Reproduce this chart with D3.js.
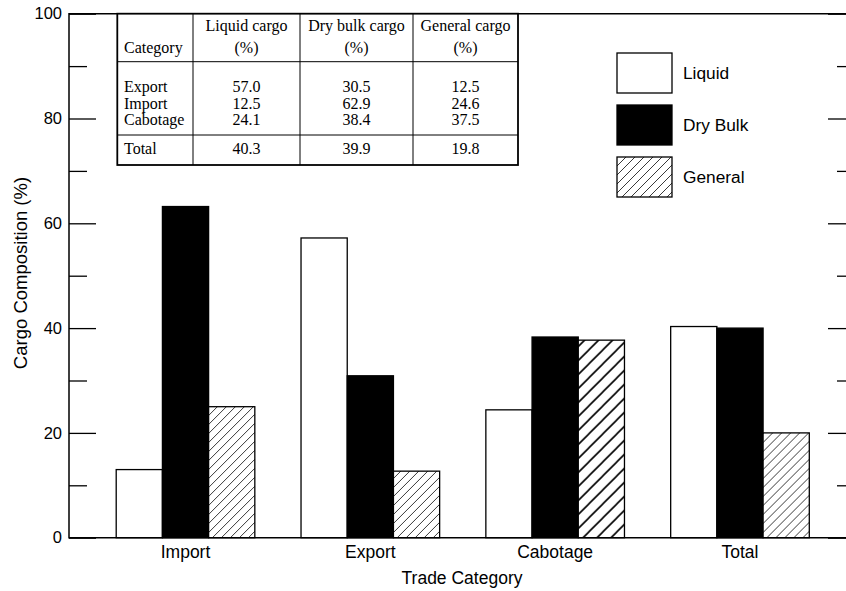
<!DOCTYPE html>
<html>
<head>
<meta charset="utf-8">
<script src="https://cdn.jsdelivr.net/npm/d3@7"></script>
<style>
  body { margin: 0; background: #fff; }
  svg { display: block; }
</style>
</head>
<body>
<svg id="chart" width="846" height="591"></svg>
<script>
// ---- data ----
const categories = ["Import", "Export", "Cabotage", "Total"];
const seriesNames = ["Liquid", "Dry Bulk", "General"];
const liquidValues = [13.0, 57.2, 24.4, 40.3];
const dryBulkValues = [63.2, 30.9, 38.3, 40.0];
const generalValues = [25.0, 12.7, 37.7, 20.0];
const yTicks = [0, 20, 40, 60, 80, 100];
const yMinorTicks = [10, 30, 50, 70, 90];

const tableHeader1 = ["", "Liquid cargo", "Dry bulk cargo", "General cargo"];
const tableHeader2 = ["Category", "(%)", "(%)", "(%)"];
const tableRowNames = ["Export", "Import", "Cabotage"];
const tableLiquid = ["57.0", "12.5", "24.1"];
const tableDryBulk = ["30.5", "62.9", "38.4"];
const tableGeneral = ["12.5", "24.6", "37.5"];
const tableTotal = ["Total", "40.3", "39.9", "19.8"];

// ---- setup ----
const svg = d3.select("#chart");
const sans = "'Liberation Sans', Arial, sans-serif";
const serif = "'Liberation Serif', 'Times New Roman', serif";

const xLeft = 69, xRight = 855, yTop = 13.7, yBottom = 537.7;

const y = d3.scaleLinear().domain([0, 100]).range([yBottom, yTop]);
const x0 = d3.scaleBand().domain(categories).range([93.1, 832.4]).padding(0);
const x1 = d3.scaleBand().domain(seriesNames)
  .range([x0.bandwidth() * 0.125, x0.bandwidth() * 0.875]).padding(0);

// patterns
const defs = svg.append("defs");
function hatch(id, size, sw, color) {
  const p = defs.append("pattern").attr("id", id)
    .attr("patternUnits", "userSpaceOnUse")
    .attr("width", size).attr("height", size);
  p.append("rect").attr("width", size).attr("height", size).attr("fill", "#fff");
  p.append("path")
    .attr("d", `M0,${size} L${size},0 M${-size / 2},${size / 2} L${size / 2},${-size / 2} M${size / 2},${size * 1.5} L${size * 1.5},${size / 2}`)
    .attr("stroke", color).attr("stroke-width", sw);
}
hatch("hatchThin", 9, 0.9, "#222");
hatch("hatchThick", 14, 1.6, "#000");

const fills = { "Liquid": "#fff", "Dry Bulk": "#000", "General": "url(#hatchThin)" };
function fillFor(cat, s) {
  if (s === "General" && cat === "Cabotage") return "url(#hatchThick)";
  return fills[s];
}

const seriesValues = { "Liquid": liquidValues, "Dry Bulk": dryBulkValues, "General": generalValues };

// ---- bars ----
const groups = svg.append("g").selectAll("g")
  .data(categories).join("g")
  .attr("transform", d => `translate(${x0(d)},0)`);

groups.selectAll("rect")
  .data((cat, i) => seriesNames.map(s => ({ cat, s, v: seriesValues[s][i] })))
  .join("rect")
  .attr("x", d => x1(d.s))
  .attr("y", d => y(d.v))
  .attr("width", x1.bandwidth())
  .attr("height", d => y(0) - y(d.v))
  .attr("fill", d => fillFor(d.cat, d.s))
  .attr("stroke", "#000")
  .attr("stroke-width", 1.3);

// ---- axes ----
const axisLeft = svg.append("g").attr("transform", `translate(${xLeft},0)`)
  .call(d3.axisLeft(y).tickValues(yTicks).tickSize(-27).tickPadding(7).tickFormat(d3.format("d")));
axisLeft.select(".domain").remove();
axisLeft.selectAll("line").attr("stroke", "#000").attr("stroke-width", 1.3);
axisLeft.selectAll("text").attr("font-family", sans).attr("font-size", 16.5).attr("fill", "#000");

const axisLeftMinor = svg.append("g").attr("transform", `translate(${xLeft},0)`)
  .call(d3.axisLeft(y).tickValues(yMinorTicks).tickSize(-18).tickFormat(""));
axisLeftMinor.select(".domain").remove();
axisLeftMinor.selectAll("line").attr("stroke", "#000").attr("stroke-width", 1.3);

const axisRight = svg.append("g").attr("transform", `translate(${xRight},0)`)
  .call(d3.axisRight(y).tickValues(yTicks).tickSize(-27).tickFormat(""));
axisRight.select(".domain").remove();
axisRight.selectAll("line").attr("stroke", "#000").attr("stroke-width", 1.3);

const axisRightMinor = svg.append("g").attr("transform", `translate(${xRight},0)`)
  .call(d3.axisRight(y).tickValues(yMinorTicks).tickSize(-18).tickFormat(""));
axisRightMinor.select(".domain").remove();
axisRightMinor.selectAll("line").attr("stroke", "#000").attr("stroke-width", 1.3);

const axisBottom = svg.append("g").attr("transform", `translate(0,${yBottom})`)
  .call(d3.axisBottom(x0).tickSize(0).tickPadding(8));
axisBottom.select(".domain").remove();
axisBottom.selectAll("text").attr("font-family", sans).attr("font-size", 17.5).attr("fill", "#000");

// frame
svg.append("path")
  .attr("d", `M${xRight},${yTop} L${xLeft},${yTop} L${xLeft},${yBottom} L${xRight},${yBottom}`)
  .attr("fill", "none").attr("stroke", "#000").attr("stroke-width", 1.5);

// axis titles
svg.append("text")
  .attr("transform", `translate(27,273) rotate(-90)`)
  .attr("text-anchor", "middle")
  .attr("font-family", sans).attr("font-size", 18.5)
  .text("Cargo Composition (%)");

svg.append("text")
  .attr("x", 462).attr("y", 584)
  .attr("text-anchor", "middle")
  .attr("font-family", sans).attr("font-size", 17.5)
  .text("Trade Category");

// ---- legend ----
const legend = svg.append("g");
const legendTop = [53, 105, 157];
seriesNames.forEach((s, i) => {
  legend.append("rect")
    .attr("x", 617).attr("y", legendTop[i])
    .attr("width", 55).attr("height", 40)
    .attr("fill", fills[s]).attr("stroke", "#000").attr("stroke-width", 1.3);
  legend.append("text")
    .attr("x", 683).attr("y", legendTop[i] + 26)
    .attr("font-family", sans).attr("font-size", 17.3)
    .text(s);
});

// ---- table ----
const tbl = svg.append("g");
const tL = 117.3, tR = 518, tT = 13.7, tB = 165;
const colCenters = [124, 246.5, 356.5, 465.5];
tbl.append("rect").attr("x", tL).attr("y", tT).attr("width", tR - tL).attr("height", tB - tT)
  .attr("fill", "#fff").attr("stroke", "#000").attr("stroke-width", 1.8);
[193, 300, 413].forEach(xx => tbl.append("line").attr("x1", xx).attr("x2", xx)
  .attr("y1", tT).attr("y2", tB).attr("stroke", "#000").attr("stroke-width", 1));
[61.7, 135].forEach(yy => tbl.append("line").attr("x1", tL).attr("x2", tR)
  .attr("y1", yy).attr("y2", yy).attr("stroke", "#000").attr("stroke-width", 1));

function cell(txt, col, yy) {
  tbl.append("text")
    .attr("x", colCenters[col]).attr("y", yy)
    .attr("text-anchor", col === 0 ? "start" : "middle")
    .attr("font-family", serif).attr("font-size", 16)
    .text(txt);
}
tableHeader1.forEach((t, c) => { if (t) cell(t, c, 31); });
tableHeader2.forEach((t, c) => cell(t, c, 53));
tableRowNames.forEach((r, i) => {
  const yy = 92 + i * 16.7;
  cell(r, 0, yy);
  cell(tableLiquid[i], 1, yy);
  cell(tableDryBulk[i], 2, yy);
  cell(tableGeneral[i], 3, yy);
});
tableTotal.forEach((t, c) => cell(t, c, 154));
</script>
</body>
</html>
